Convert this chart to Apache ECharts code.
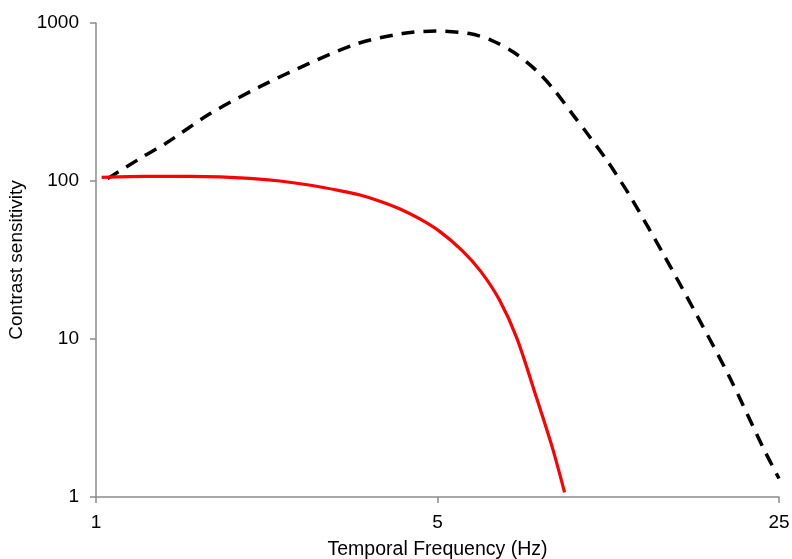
<!DOCTYPE html>
<html>
<head>
<meta charset="utf-8">
<script src="https://cdn.jsdelivr.net/npm/echarts@6/dist/echarts.min.js"></script>
<style>html,body{margin:0;padding:0;background:#fff}#c{width:792px;height:559px}</style>
</head>
<body>
<div id="c"></div>
<script>
// Tick labels
const xTicks = [1, 5, 25];
const yTicks = [1, 10, 100, 1000];

// Red solid curve: frequency (Hz) and contrast sensitivity
const redFreq = [1.027, 1.173, 1.35, 1.556, 1.792, 2.063, 2.378, 2.75, 3.15, 3.47, 3.81, 4.19, 4.60, 5.05, 5.61, 6.13, 6.7, 7.27, 7.98, 8.6, 9.1];
const redSens = [105.5, 106.6, 107, 107, 106.3, 104, 100, 94, 87, 81.5, 74.5, 66.5, 57.5, 48.0, 36.4, 26.8, 17.6, 10.1, 4.21, 2.03, 1.07];

// Black dashed curve
const blackFreq = [1.056, 1.25, 1.388, 1.713, 2.16, 2.724, 3.43, 4.24, 4.96, 5.81, 6.45, 7.16, 7.96, 8.66, 9.43, 10.25, 11.17, 11.88, 12.4, 14.5, 16.94, 19.83, 23.2, 25];
const blackSens = [103.5, 143, 172.5, 267, 394, 553, 741, 857, 890, 857, 777, 653, 502, 378, 267, 190, 131.9, 98.6, 80, 34.4, 14.3, 5.69, 2.05, 1.31];

const redData = redFreq.map((f, i) => [f, redSens[i]]);
const blackData = blackFreq.map((f, i) => [f, blackSens[i]]);

const chart = echarts.init(document.getElementById('c'), null, {renderer: 'canvas'});
const font = 'Liberation Sans, Arial, sans-serif';
chart.setOption({
  animation: false,
  backgroundColor: '#fff',
  grid: {left: 96, right: 13, top: 23, bottom: 62, containLabel: false, outerBoundsMode: 'none'},
  xAxis: {
    type: 'log', logBase: 5, min: xTicks[0], max: xTicks[xTicks.length - 1],
    name: 'Temporal Frequency (Hz)', nameLocation: 'middle', nameGap: 43,
    nameTextStyle: {fontFamily: font, fontSize: 19.5, color: '#000'},
    axisLine: {show: true, lineStyle: {color: '#8c8c8c', width: 1.5}},
    axisTick: {show: true, length: 6, lineStyle: {color: '#8c8c8c', width: 1.5}},
    axisLabel: {fontFamily: font, fontSize: 19, color: '#000', margin: 16,
      formatter: v => String(Math.round(v))},
    splitLine: {show: false}, minorTick: {show: false}
  },
  yAxis: {
    type: 'log', logBase: 10, min: yTicks[0], max: yTicks[yTicks.length - 1],
    name: 'Contrast sensitivity', nameLocation: 'middle', nameGap: 56,
    nameTextStyle: {fontFamily: font, fontSize: 19, color: '#000'},
    axisLine: {show: true, lineStyle: {color: '#8c8c8c', width: 1.5}},
    axisTick: {show: true, length: 6, lineStyle: {color: '#8c8c8c', width: 1.5}},
    axisLabel: {fontFamily: font, fontSize: 19, color: '#000', margin: 17,
      formatter: v => String(Math.round(v))},
    splitLine: {show: false}
  },
  series: [
    {type: 'line', data: blackData, showSymbol: false, smooth: 0.3,
      lineStyle: {color: '#000', width: 3.5, type: [13, 9], cap: 'butt'}},
    {type: 'line', data: redData, showSymbol: false, smooth: 0.3,
      lineStyle: {color: '#ff0000', width: 3.2}}
  ]
});
</script>
</body>
</html>
